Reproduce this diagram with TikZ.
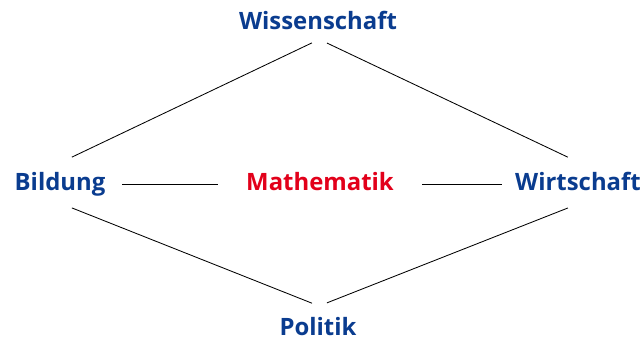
\documentclass[tikz,border=0pt]{standalone}
\usepackage{fontspec}
\setmainfont{Open Sans}
\usepackage{xcolor}
\definecolor{FieldBlue}{HTML}{0A3C8F}
\definecolor{CoreRed}{HTML}{E2001A}

\begin{document}
\begin{tikzpicture}[
  every node/.style={font=\fontsize{17}{20}\selectfont\bfseries, inner sep=0pt, anchor=base},
  field/.style={text=FieldBlue},
  core/.style ={text=CoreRed},
  link/.style ={draw=black, line width=0.6pt},
]
\useasboundingbox (0,0) rectangle (16.075,8.55);

%% ── Fields ───────────────────────────────────
\node[field] at (7.95,  7.82) (wiss) {Wissenschaft};
\node[field] at (1.5,   3.78) (bild) {Bildung};
\node[core]  at (8.0,   3.78) (math) {Mathematik};
\node[field] at (14.45, 3.78) (wirt) {Wirtschaft};
\node[field] at (7.95,  0.16) (poli) {Politik};

%% ── Diamond ──────────────────────────────────
\draw[link, shorten <=0.33cm, shorten >=0.17cm]
    ([yshift=0.7cm]bild.base) -- ([yshift=-0.27cm]wiss.base);
\draw[link, shorten <=0.25cm, shorten >=0.28cm]
    ([yshift=-0.24cm]wiss.base) -- ([yshift=0.72cm]wirt.base);
\draw[link, shorten <=0.32cm, shorten >=0.16cm]
    ([yshift=-0.31cm]bild.base) -- ([yshift=0.75cm]poli.base);
\draw[link, shorten <=0.24cm, shorten >=0.27cm]
    ([yshift=0.73cm]poli.base) -- ([yshift=-0.33cm]wirt.base);

%% ── Middle row ───────────────────────────────
\draw[link, shorten <=1.55cm, shorten >=2.55cm]
    ([yshift=0.17cm]bild.base) -- ([yshift=0.17cm]math.base);
\draw[link, shorten <=2.55cm, shorten >=1.9cm]
    ([yshift=0.17cm]math.base) -- ([yshift=0.17cm]wirt.base);

\end{tikzpicture}
\end{document}
